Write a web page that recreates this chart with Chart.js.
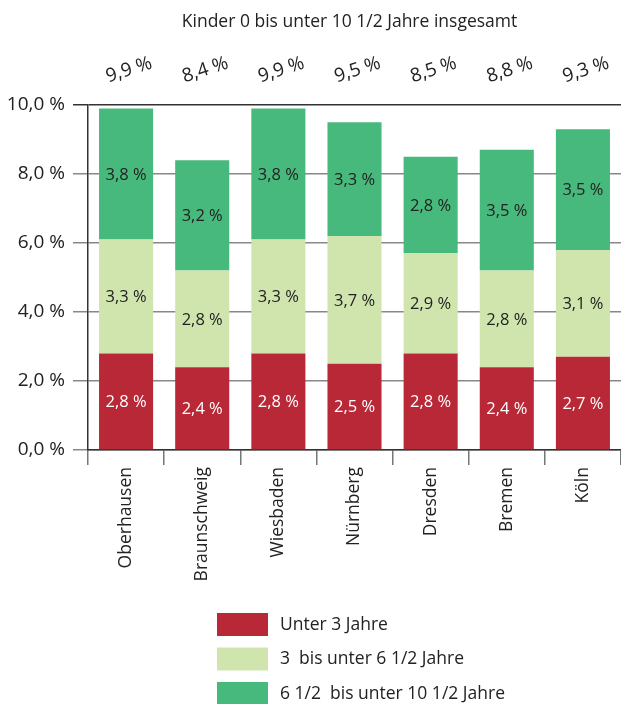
<!DOCTYPE html>
<html>
<head>
<meta charset="utf-8">
<script src="https://cdn.jsdelivr.net/npm/chart.js@4.4.1/dist/chart.umd.min.js"></script>
<style>
  html, body { margin: 0; padding: 0; background: #ffffff; }
  #wrap { width: 621px; height: 704px; position: relative; }
</style>
</head>
<body>
<div id="wrap"><canvas id="c" width="621" height="704"></canvas></div>
<script>
const titleText = 'Kinder 0 bis unter 10 1/2 Jahre insgesamt';
const categories = ['Oberhausen', 'Braunschweig', 'Wiesbaden', 'Nürnberg', 'Dresden', 'Bremen', 'Köln'];
const under3 = [2.8, 2.4, 2.8, 2.5, 2.8, 2.4, 2.7];
const from3to6 = [3.3, 2.8, 3.3, 3.7, 2.9, 2.8, 3.1];
const from6to10 = [3.8, 3.2, 3.8, 3.3, 2.8, 3.5, 3.5];
const totals = [9.9, 8.4, 9.9, 9.5, 8.5, 8.8, 9.3];
const seriesLabels = ['Unter 3 Jahre', '3  bis unter 6 1/2 Jahre', '6 1/2  bis unter 10 1/2 Jahre'];
const yTicks = [0, 2, 4, 6, 8, 10];

const FONT = "'Open Sans', 'Noto Sans', sans-serif";
const fmt = (v, d) => v.toFixed(d).replace('.', ',') + ' %';

const colors = ['#B92837', '#D0E5AE', '#47B97C'];
const labelColors = ['#ffffff', '#222222', '#222222'];

const overlay = {
  id: 'overlay',
  afterDatasetsDraw(chart) {
    const ctx = chart.ctx;
    ctx.save();
    // segment labels
    chart.data.datasets.forEach((ds, di) => {
      const meta = chart.getDatasetMeta(di);
      meta.data.forEach((bar, i) => {
        const yc = (bar.y + bar.base) / 2;
        ctx.fillStyle = labelColors[di];
        ctx.font = '16.5px ' + FONT;
        ctx.textAlign = 'center';
        ctx.textBaseline = 'middle';
        ctx.fillText(fmt(ds.data[i], 1), bar.x, yc + 1);
      });
    });
    ctx.restore();
  },
  afterDraw(chart) {
    const ctx = chart.ctx;
    const area = chart.chartArea;
    const xs = chart.scales.x;
    ctx.save();
    // title
    ctx.fillStyle = '#222222';
    ctx.font = '17.5px ' + FONT;
    ctx.textAlign = 'center';
    ctx.textBaseline = 'middle';
    ctx.fillText(titleText, (area.left + area.right) / 2 - 5, 22);
    // totals (rotated)
    ctx.font = '19px ' + FONT;
    totals.forEach((t, i) => {
      const x = xs.getPixelForValue(i) + 3;
      ctx.save();
      ctx.translate(x, 70);
      ctx.rotate(-18 * Math.PI / 180);
      ctx.textAlign = 'center';
      ctx.textBaseline = 'middle';
      ctx.fillText(fmt(t, 1), 0, 0);
      ctx.restore();
    });
    // legend
    const lx = 217, ly0 = 613, step = 34.5;
    chart.data.datasets.forEach((ds, di) => {
      const y = ly0 + di * step;
      ctx.fillStyle = ds.backgroundColor;
      ctx.fillRect(lx, y, 51, 23);
      ctx.fillStyle = '#222222';
      ctx.font = '17.5px ' + FONT;
      ctx.textAlign = 'left';
      ctx.textBaseline = 'middle';
      ctx.fillText(ds.label, lx + 63, y + 12);
    });
    ctx.restore();
  }
};

new Chart(document.getElementById('c'), {
  type: 'bar',
  data: {
    labels: categories,
    datasets: [
      { label: seriesLabels[0], data: under3, backgroundColor: colors[0] },
      { label: seriesLabels[1], data: from3to6, backgroundColor: colors[1] },
      { label: seriesLabels[2], data: from6to10, backgroundColor: colors[2] }
    ]
  },
  options: {
    responsive: false,
    animation: false,
    devicePixelRatio: 1,
    layout: { padding: { top: 105, right: 0, bottom: 0, left: 0 } },
    datasets: { bar: { barPercentage: 0.71, categoryPercentage: 1.0, borderWidth: 0 } },
    plugins: {
      legend: { display: false },
      title: { display: false },
      tooltip: { enabled: false }
    },
    scales: {
      x: {
        stacked: true,
        grid: { display: true, drawOnChartArea: false, drawTicks: true, tickLength: 15, color: '#777777', lineWidth: 1.5, offset: true },
        border: { display: true, color: '#333333', width: 1.5 },
        ticks: { color: '#222222', font: { family: FONT, size: 17.5 }, minRotation: 90, maxRotation: 90, padding: 2, autoSkip: false },
        afterFit(scale) { scale.height = 254; }
      },
      y: {
        stacked: true,
        min: 0,
        max: 10,
        afterBuildTicks(scale) { scale.ticks = yTicks.map(v => ({ value: v })); },
        grid: {
          color: (c) => (c.tick && c.tick.value === 10) ? '#333333' : '#888888',
          lineWidth: 1.5,
          tickLength: 15
        },
        border: { display: true, color: '#333333', width: 1.5 },
        ticks: { color: '#222222', font: { family: FONT, size: 19 }, padding: 8, callback: (v) => fmt(v, 1) },
        afterFit(scale) { scale.width = 88; }
      }
    }
  },
  plugins: [overlay]
});
</script>
</body>
</html>
